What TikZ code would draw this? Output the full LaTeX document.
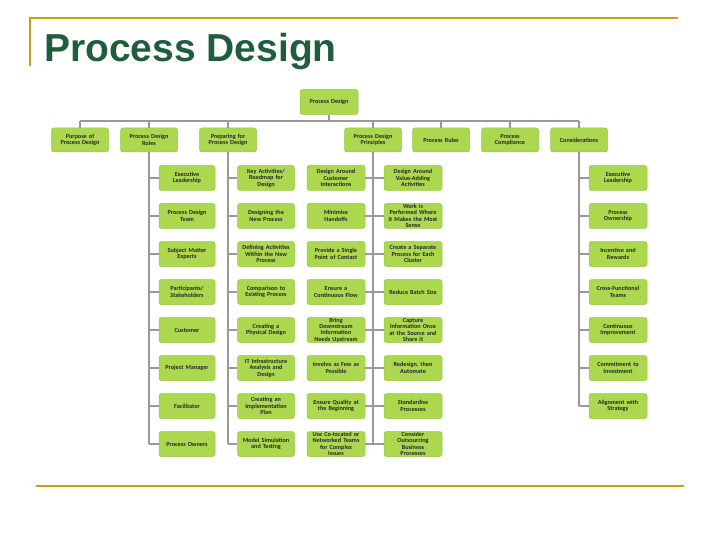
\documentclass[tikz,border=0pt]{standalone}
\usepackage{fontspec}
\setmainfont{Carlito}
\newfontfamily\titlefont{Liberation Sans}
\begin{document}
\begin{tikzpicture}[x=1pt,y=-1pt,
 bx/.style={draw=boxline,fill=boxfill,line width=0.5pt,rounded corners=2.5pt,minimum height=25pt,text width=54pt,align=center,inner sep=0.3pt,font=\fontsize{6.2}{6.4}\selectfont\bfseries,text=black!85},
 ln/.style={draw=gray!80,line width=1.6pt}]
\definecolor{boxfill}{RGB}{172,216,80}
\definecolor{boxline}{RGB}{150,200,70}
\definecolor{gold}{RGB}{200,160,20}
\definecolor{titlegreen}{RGB}{30,94,60}
\useasboundingbox (0,0) rectangle (720,540);
\draw[gold,line width=1.5pt] (30,66) -- (30,18) -- (678,18);
\draw[gold,line width=1.5pt] (36,486) -- (684,486);
\node[anchor=west,text=titlegreen,font=\titlefont\bfseries\fontsize{39}{42}\selectfont,inner sep=0pt] (title) at (44,52) {Process Design};
% top
\node[bx,minimum width=58pt,text width=54pt] (top) at (329,102) {Process Design};
\coordinate (bl) at (80,121); \coordinate (br) at (579,121);
\draw[ln] (top.south) -- (329,121);
\draw[ln] (bl) -- (br);
\foreach \n/\x/\t in {a/80/{Purpose of\\Process Design},b/149/{Process Design\\Roles},c/228/{Preparing for\\Process Design},d/373/{Process Design\\Principles},e/441/{Process Rules},f/510/{Process\\Compliance},g/579/{Considerations}}{
 \node[bx,minimum width=57pt,minimum height=24pt] (\n) at (\x,140) {\t};
 \draw[ln] (\x,121) -- (\n.north);
}
\foreach \t [count=\i] in {{Executive\\Leadership},{Process Design\\Team},{Subject Matter\\Experts},{Participants/\\Stakeholders},{Customer},{Project Manager},{Facilitator},{Process Owners}}{
 \node[bx,minimum width=56pt] (b\i) at (187,140+38*\i) {\t};
 \draw[ln] (149,140+38*\i) -- (b\i.west);
}
\draw[ln] (b.south) -- (149,444);
\foreach \t [count=\i] in {{Key Activities/\\Roadmap for\\Design},{Designing the\\New Process},{Defining Activities\\Within the New\\Process},{Comparison to\\Existing Process},{Creating a\\Physical Design},{IT Infrastructure\\Analysis and\\Design},{Creating an\\Implementation\\Plan},{Model Simulation\\and Testing}}{
 \node[bx,minimum width=57pt] (c\i) at (266,140+38*\i) {\t};
 \draw[ln] (228,140+38*\i) -- (c\i.west);
}
\draw[ln] (c.south) -- (228,444);
\foreach \t [count=\i] in {{Design Around\\Customer\\Interactions},{Minimise\\Handoffs},{Provide a Single\\Point of Contact},{Ensure a\\Continuous Flow},{Bring\\Downstream\\Information\\Needs Upstream},{Involve as Few as\\Possible},{Ensure Quality at\\the Beginning},{Use Co-located or\\Networked Teams\\for Complex\\Issues}}{
 \node[bx,minimum width=58pt] (dl\i) at (336,140+38*\i) {\t};
 \draw[ln] (dl\i.east) -- (373,140+38*\i);
}
\foreach \t [count=\i] in {{Design Around\\Value-Adding\\Activities},{Work is\\Performed Where\\it Makes the Most\\Sense},{Create a Separate\\Process for Each\\Cluster},{Reduce Batch Size},{Capture\\Information Once\\at the Source and\\Share it},{Redesign, then\\Automate},{Standardise\\Processes},{Consider\\Outsourcing\\Business\\Processes}}{
 \node[bx,minimum width=58pt] (dr\i) at (413,140+38*\i) {\t};
 \draw[ln] (373,140+38*\i) -- (dr\i.west);
}
\draw[ln] (d.south) -- (373,444);
\foreach \t [count=\i] in {{Executive\\Leadership},{Process\\Ownership},{Incentive and\\Rewards},{Cross-Functional\\Teams},{Continuous\\Improvement},{Commitment to\\Investment},{Alignment with\\Strategy}}{
 \node[bx,minimum width=58pt] (g\i) at (618,140+38*\i) {\t};
 \draw[ln] (579,140+38*\i) -- (g\i.west);
}
\draw[ln] (g.south) -- (579,406);
\end{tikzpicture}
\end{document}
